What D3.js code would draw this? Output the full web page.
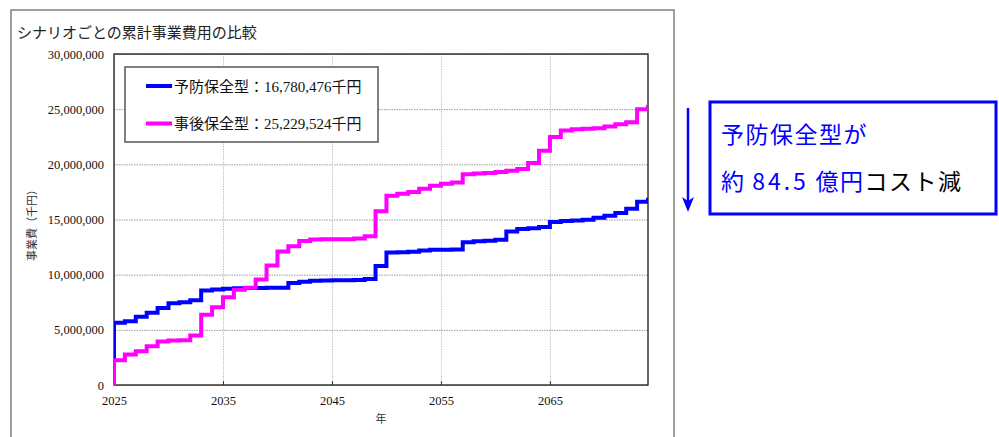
<!DOCTYPE html>
<html>
<head>
<meta charset="utf-8">
<script src="https://cdn.jsdelivr.net/npm/d3@7"></script>
<style>
  body { margin: 0; background: #fff; }
  svg { display: block; }
</style>
</head>
<body>
<div id="chart"></div>
<script>
const years = [
  2025, 2026, 2027, 2028, 2029, 2030, 2031, 2032, 2033, 2034,
  2035, 2036, 2037, 2038, 2039, 2040, 2041, 2042, 2043, 2044,
  2045, 2046, 2047, 2048, 2049, 2050, 2051, 2052, 2053, 2054,
  2055, 2056, 2057, 2058, 2059, 2060, 2061, 2062, 2063, 2064,
  2065, 2066, 2067, 2068, 2069, 2070, 2071, 2072, 2073, 2074,
];

// 予防保全型 cumulative cost (千円)
const preventive = [
  5640000, 5780000, 6180000, 6540000, 6980000, 7420000, 7490000, 7680000, 8570000, 8650000,
  8720000, 8760000, 8790000, 8800000, 8810000, 8820000, 9250000, 9360000, 9440000, 9470000,
  9490000, 9500000, 9520000, 9610000, 10780000, 12000000, 12030000, 12080000, 12200000, 12250000,
  12260000, 12270000, 12930000, 13020000, 13080000, 13170000, 13920000, 14140000, 14200000, 14320000,
  14770000, 14860000, 14920000, 14980000, 15160000, 15340000, 15580000, 15980000, 16600000, 16780476,
];

// 事後保全型 cumulative cost (千円)
const corrective = [
  2250000, 2770000, 3070000, 3520000, 3940000, 4030000, 4060000, 4490000, 6360000, 7040000,
  7960000, 8630000, 8810000, 9560000, 10830000, 12100000, 12580000, 13060000, 13190000, 13200000,
  13210000, 13220000, 13270000, 13480000, 15750000, 17150000, 17330000, 17490000, 17790000, 18060000,
  18240000, 18360000, 19090000, 19180000, 19210000, 19300000, 19420000, 19570000, 20110000, 21230000,
  22470000, 23070000, 23190000, 23220000, 23280000, 23430000, 23640000, 23820000, 24990000, 25229524,
];

const seriesNames = ["予防保全型", "事後保全型"];
const seriesTotals = [16780476, 25229524];
const xTicks = [2025, 2035, 2045, 2055, 2065];
const yTicks = [0, 5000000, 10000000, 15000000, 20000000, 25000000, 30000000];

const title = "シナリオごとの累計事業費用の比較";
const yLabel = "事業費（千円）";
const xLabel = "年";

const width = 999;
const height = 437;
const plot = { left: 114, right: 648, top: 54, bottom: 385 };
const colors = ["#0000ff", "#ff00ff"];
const numFont = "'Liberation Serif', 'Noto Sans CJK JP', serif";
const jpFont = "'Noto Sans CJK JP', sans-serif";

const svg = d3
  .select("#chart")
  .append("svg")
  .attr("width", width)
  .attr("height", height);

// outer frame
svg
  .append("rect")
  .attr("x", 11)
  .attr("y", 10)
  .attr("width", 663)
  .attr("height", 440)
  .attr("fill", "none")
  .attr("stroke", "#808080")
  .attr("stroke-width", 1.5);

svg
  .append("text")
  .attr("x", 17)
  .attr("y", 38)
  .attr("font-family", jpFont)
  .attr("font-size", 15)
  .attr("fill", "#222")
  .text(title);

const xScale = d3
  .scaleLinear()
  .domain([years[0], years[years.length - 1]])
  .range([plot.left, plot.right]);

const yScale = d3
  .scaleLinear()
  .domain([0, 30000000])
  .range([plot.bottom, plot.top]);

/* grid + tick labels */
const yAxis = d3
  .axisLeft(yScale)
  .tickValues(yTicks)
  .tickSize(-(plot.right - plot.left))
  .tickPadding(10)
  .tickFormat(d3.format(","));

const gy = svg
  .append("g")
  .attr("transform", `translate(${plot.left},0)`)
  .call(yAxis);
gy.select(".domain").remove();
gy.selectAll(".tick line")
  .attr("stroke", "#9a9a9a")
  .attr("stroke-dasharray", "1.5,1");
gy.selectAll(".tick text")
  .attr("font-family", numFont)
  .attr("font-size", 12.5)
  .attr("fill", "#111");

const xAxis = d3
  .axisBottom(xScale)
  .tickValues(xTicks)
  .tickSize(-(plot.bottom - plot.top))
  .tickPadding(11)
  .tickFormat((d) => d);

const gx = svg
  .append("g")
  .attr("transform", `translate(0,${plot.bottom})`)
  .call(xAxis);
gx.select(".domain").remove();
gx.selectAll(".tick line")
  .attr("stroke", "#c4c4c4")
  .attr("stroke-dasharray", "1.5,1");
gx.selectAll(".tick text")
  .attr("font-family", numFont)
  .attr("font-size", 12.5)
  .attr("fill", "#111");

// short solid ticks on the inside of the axes
svg
  .append("g")
  .attr("transform", `translate(0,${plot.bottom})`)
  .call(d3.axisBottom(xScale).tickValues(xTicks).tickSize(-4).tickFormat(""))
  .call((g) => g.select(".domain").remove())
  .selectAll("line")
  .attr("stroke", "#333");

// plot border
svg
  .append("rect")
  .attr("x", plot.left)
  .attr("y", plot.top)
  .attr("width", plot.right - plot.left)
  .attr("height", plot.bottom - plot.top)
  .attr("fill", "none")
  .attr("stroke", "#1a1a1a")
  .attr("stroke-width", 1.3);

svg
  .append("text")
  .attr("transform", `translate(36,${(plot.top + plot.bottom) / 2 + 3}) rotate(-90)`)
  .attr("text-anchor", "middle")
  .attr("font-family", jpFont)
  .attr("font-size", 11)
  .attr("fill", "#333")
  .text(yLabel);

svg
  .append("text")
  .attr("x", (plot.left + plot.right) / 2)
  .attr("y", 423)
  .attr("text-anchor", "middle")
  .attr("font-family", jpFont)
  .attr("font-size", 11)
  .attr("fill", "#333")
  .text(xLabel);

/* step lines */
svg
  .append("clipPath")
  .attr("id", "plot-clip")
  .append("rect")
  .attr("x", plot.left)
  .attr("y", plot.top)
  .attr("width", plot.right - plot.left)
  .attr("height", plot.bottom - plot.top);

const line = d3
  .line()
  .curve(d3.curveStepAfter)
  .x((d) => xScale(d.year))
  .y((d) => yScale(d.value));

const toPoints = (values) => {
  const pts = [{ year: years[0], value: 0 }];
  years.forEach((y, i) => pts.push({ year: y, value: values[i] }));
  pts.push({ year: years[years.length - 1] + 1, value: values[values.length - 1] });
  return pts;
};

const series = [preventive, corrective];

svg
  .append("g")
  .attr("clip-path", "url(#plot-clip)")
  .selectAll("path")
  .data(series)
  .enter()
  .append("path")
  .attr("d", (d) => line(toPoints(d)))
  .attr("fill", "none")
  .attr("stroke", (d, i) => colors[i])
  .attr("stroke-width", 4);

/* legend */
const legend = svg.append("g");
legend
  .append("rect")
  .attr("x", 125)
  .attr("y", 67)
  .attr("width", 253)
  .attr("height", 75)
  .attr("fill", "#fff")
  .attr("stroke", "#555")
  .attr("stroke-width", 1.5);

const rows = legend
  .selectAll(".row")
  .data(seriesNames)
  .enter()
  .append("g")
  .attr("class", "row")
  .attr("transform", (d, i) => `translate(0,${86 + i * 37.5})`);

rows
  .append("line")
  .attr("x1", 146)
  .attr("x2", 172)
  .attr("stroke", (d, i) => colors[i])
  .attr("stroke-width", 4);

rows
  .append("text")
  .attr("x", 174)
  .attr("y", 5.5)
  .attr("font-family", numFont)
  .attr("font-size", 15)
  .attr("fill", "#111")
  .text((d, i) => `${d}：${d3.format(",")(seriesTotals[i])}千円`);

/* annotation on the right */
const note = svg.append("g");
note
  .append("line")
  .attr("x1", 688)
  .attr("x2", 688)
  .attr("y1", 108)
  .attr("y2", 204)
  .attr("stroke", "#0000ff")
  .attr("stroke-width", 2.5);
note
  .append("path")
  .attr("d", "M682,197 L688,212 L694,197 L688,201 Z")
  .attr("fill", "#0000ff");

note
  .append("rect")
  .attr("x", 710)
  .attr("y", 102)
  .attr("width", 286)
  .attr("height", 112)
  .attr("fill", "#fff")
  .attr("stroke", "#0000ff")
  .attr("stroke-width", 3);

note
  .append("text")
  .attr("x", 721)
  .attr("y", 143)
  .attr("font-family", jpFont)
  .attr("font-size", 23)
  .attr("letter-spacing", 1.5)
  .attr("fill", "#0000ff")
  .text(`${seriesNames[0]}が`);

const line2 = note
  .append("text")
  .attr("x", 721)
  .attr("y", 190)
  .attr("font-family", jpFont)
  .attr("font-size", 23)
  .attr("letter-spacing", 1.5);
line2.append("tspan").attr("fill", "#0000ff").text("約 ");
line2.append("tspan").attr("fill", "#0000ff").attr("letter-spacing", 3).text("84.5");
line2.append("tspan").attr("fill", "#0000ff").text(" 億円");
line2.append("tspan").attr("fill", "#000").text("コスト減");
</script>
</body>
</html>
